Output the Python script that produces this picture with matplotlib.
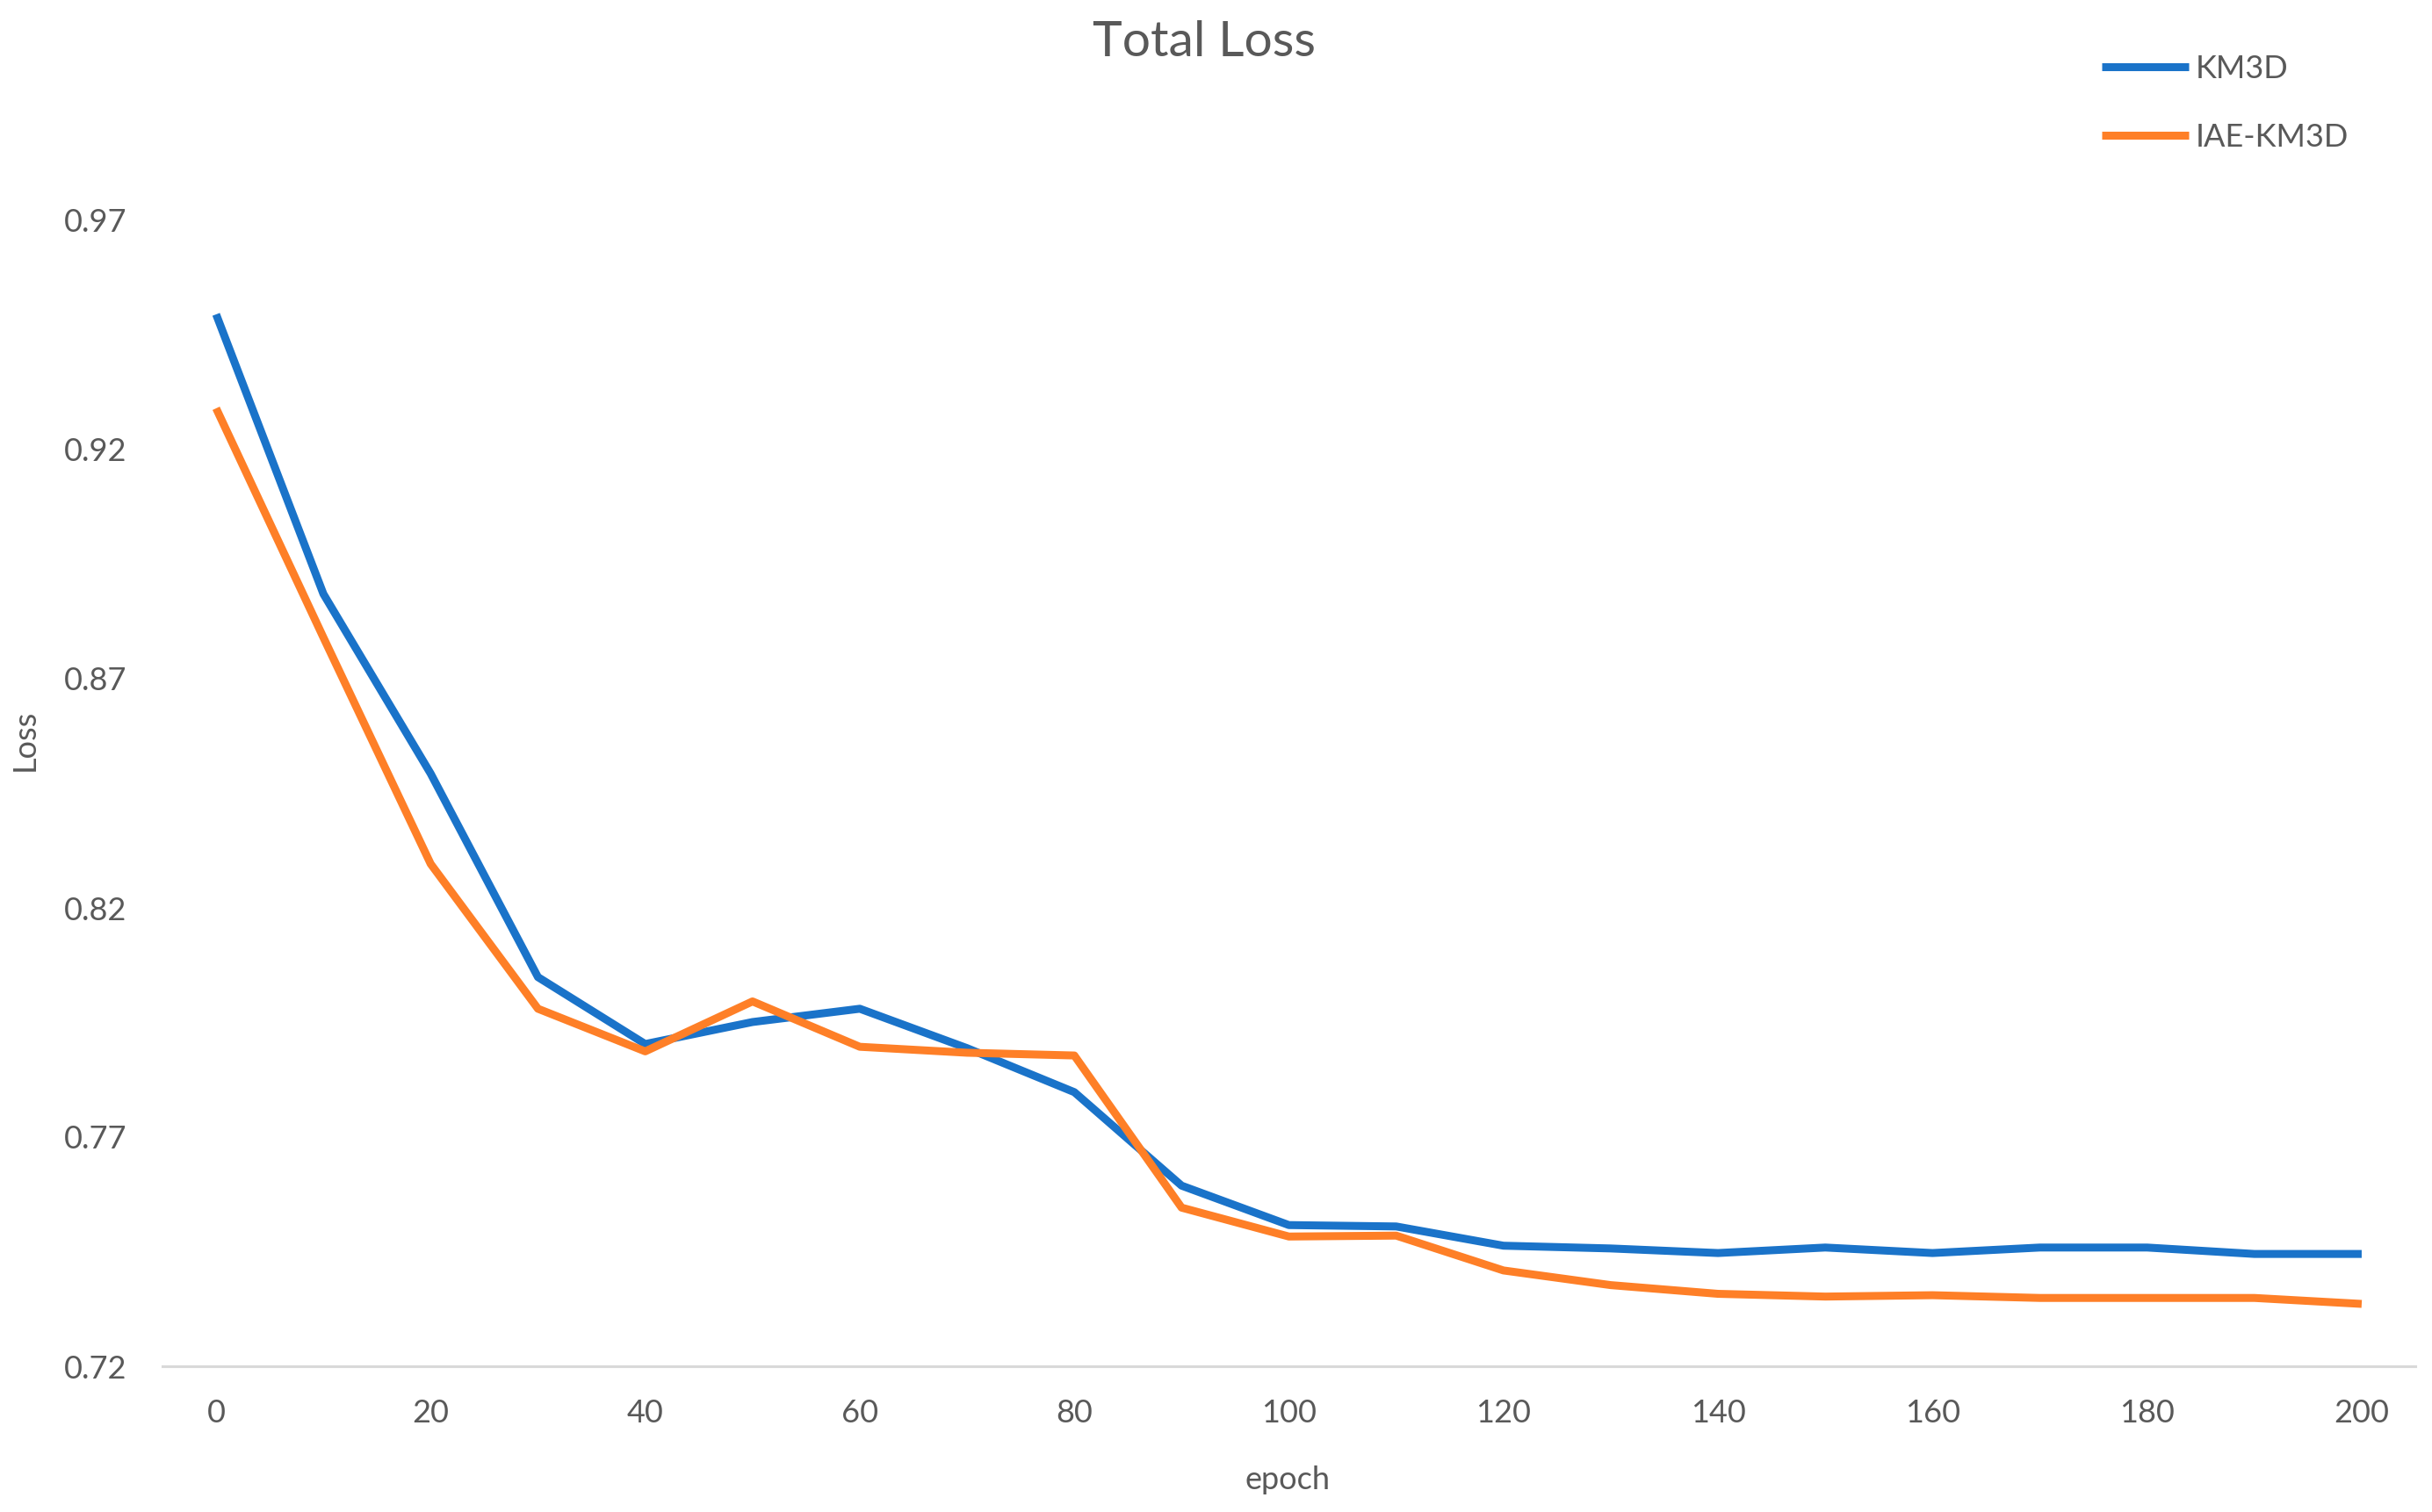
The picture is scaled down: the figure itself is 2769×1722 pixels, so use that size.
import matplotlib
matplotlib.use("Agg")
import matplotlib.pyplot as plt

epochs = [0, 10, 20, 30, 40, 50, 60, 70, 80, 90, 100, 110, 120, 130, 140, 150, 160, 170, 180, 190, 200]
km3d = [0.9495, 0.8885, 0.8493, 0.8049, 0.7903, 0.7951, 0.7980, 0.7894, 0.7798, 0.7594, 0.7508, 0.7505,
        0.7463, 0.7457, 0.7447, 0.7459, 0.7447, 0.7459, 0.7459, 0.7445, 0.7445]
iae_km3d = [0.9290, 0.8790, 0.8296, 0.7980, 0.7887, 0.7996, 0.7897, 0.7884, 0.7878, 0.7546, 0.7483, 0.7485,
            0.7409, 0.7377, 0.7358, 0.7352, 0.7355, 0.7349, 0.7349, 0.7349, 0.7336]
series_names = ["KM3D", "IAE-KM3D"]
yticks = [0.72, 0.77, 0.82, 0.87, 0.92, 0.97]
xticks = [0, 20, 40, 60, 80, 100, 120, 140, 160, 180, 200]

plt.rcParams['font.family'] = ['Lato', 'DejaVu Sans']
W, H = 2769, 1722
fig = plt.figure(figsize=(W / 100, H / 100), dpi=100)
left, right, bottom, top = 185, 2750, 1556, 251
ax = fig.add_axes([left / W, 1 - bottom / H, (right - left) / W, (bottom - top) / H])

grey = '#595959'
ax.plot(epochs, km3d, color='#1a73c9', lw=6.5, solid_joinstyle='round', solid_capstyle='butt', label=series_names[0])
ax.plot(epochs, iae_km3d, color='#fe7f27', lw=6.5, solid_joinstyle='round', solid_capstyle='butt', label=series_names[1])

ax.set_xlim(-5, 205)
ax.set_ylim(0.72, 0.97)
ax.set_xticks(xticks)
ax.set_yticks(yticks)
ax.set_yticklabels([f"{v:.2f}" for v in yticks])
ax.tick_params(axis='both', length=0, labelsize=26, colors=grey)
ax.tick_params(axis='y', pad=29)
ax.tick_params(axis='x', pad=27)
for s in ['top', 'right', 'left']:
    ax.spines[s].set_visible(False)
ax.spines['bottom'].set_color('#d9d9d9')
ax.spines['bottom'].set_linewidth(2.2)
ax.spines['bottom'].set_zorder(0)

fig.text(1371 / W, 1 - 48 / H, "Total Loss", ha='center', va='center', fontsize=41, color=grey)
fig.text(28 / W, 1 - 843 / H, "Loss", ha='center', va='center', rotation=90, fontsize=26, color=grey)
fig.text(1466 / W, 1 - 1686 / H, "epoch", ha='center', va='center', fontsize=26, color=grey)

leg = fig.legend(loc='upper left', bbox_to_anchor=(2393 / W, 1 - 62 / H), frameon=False,
                 fontsize=26, handlelength=2.75, handletextpad=0.2, labelspacing=1.24,
                 borderaxespad=0, borderpad=0)
for t in leg.get_texts():
    t.set_color(grey)

fig.savefig("out.png", dpi=100, facecolor='white')
